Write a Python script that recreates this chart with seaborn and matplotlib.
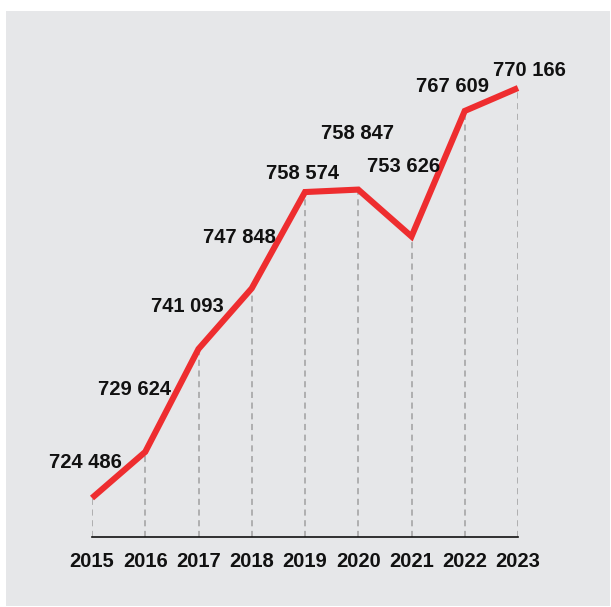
import matplotlib
matplotlib.use("Agg")
import matplotlib.pyplot as plt
from matplotlib.patches import Rectangle
import seaborn as sns
import pandas as pd

years = ["2015", "2016", "2017", "2018", "2019", "2020", "2021", "2022", "2023"]
values = [724486, 729624, 741093, 747848, 758574, 758847, 753626, 767609, 770166]
labels = ["724 486", "729 624", "741 093", "747 848", "758 574",
          "758 847", "753 626", "767 609", "770 166"]

# label offsets in pixels (dx right, dy up) relative to each point
label_dx = [-7, -11, -11, -12, -2, -1, -8, -12, 11]
label_dy = [36, 62, 42, 51, 19, 56, 70, 24, 17]

sns.set_theme(style="white")
plt.rcParams["font.family"] = ["Liberation Sans", "DejaVu Sans"]

W, H = 611, 607
fig = plt.figure(figsize=(W / 100, H / 100), dpi=100)
fig.patch.set_facecolor("white")
fig.add_artist(Rectangle((6 / W, 1 / H), 604 / W, 595 / H,
                         transform=fig.transFigure, facecolor="#E6E7E9",
                         edgecolor="none", zorder=-10))

ax = fig.add_axes([92 / W, 70 / H, 426 / W, 449 / H])
ax.set_facecolor("none")
ax.set_zorder(5)

df = pd.DataFrame({"x": range(len(years)), "value": values})
ymin = 720141
ax.vlines(df["x"], ymin, df["value"], colors="#A0A0A0", linewidth=1.1,
          linestyles=(0, (4, 3)), zorder=1)
sns.lineplot(data=df, x="x", y="value", ax=ax, color="#EE2D2F",
             linewidth=4.4, zorder=3, clip_on=False)
for ln in ax.lines:
    ln.set_solid_joinstyle("miter")
    ln.set_solid_capstyle("butt")

for i, (v, lab) in enumerate(zip(values, labels)):
    ax.annotate(lab, (i, v), xytext=(label_dx[i], label_dy[i]),
                textcoords="offset pixels", ha="center", va="center",
                fontsize=14.5, fontweight="bold", color="#111111")

ax.set_xlim(0, len(years) - 1)
ax.set_ylim(ymin, 770166)
ax.set_xticks(range(len(years)))
ax.set_xticklabels(years, fontsize=14.5, fontweight="bold", color="#111111")
ax.set_yticks([])
ax.tick_params(axis="x", length=0, pad=11)
ax.set_xlabel("")
ax.set_ylabel("")
for s in ["top", "left", "right"]:
    ax.spines[s].set_visible(False)
ax.spines["bottom"].set_color("#111111")
ax.spines["bottom"].set_linewidth(1.2)
ax.spines["bottom"].set_zorder(2)

fig.savefig("out.png", dpi=100)
